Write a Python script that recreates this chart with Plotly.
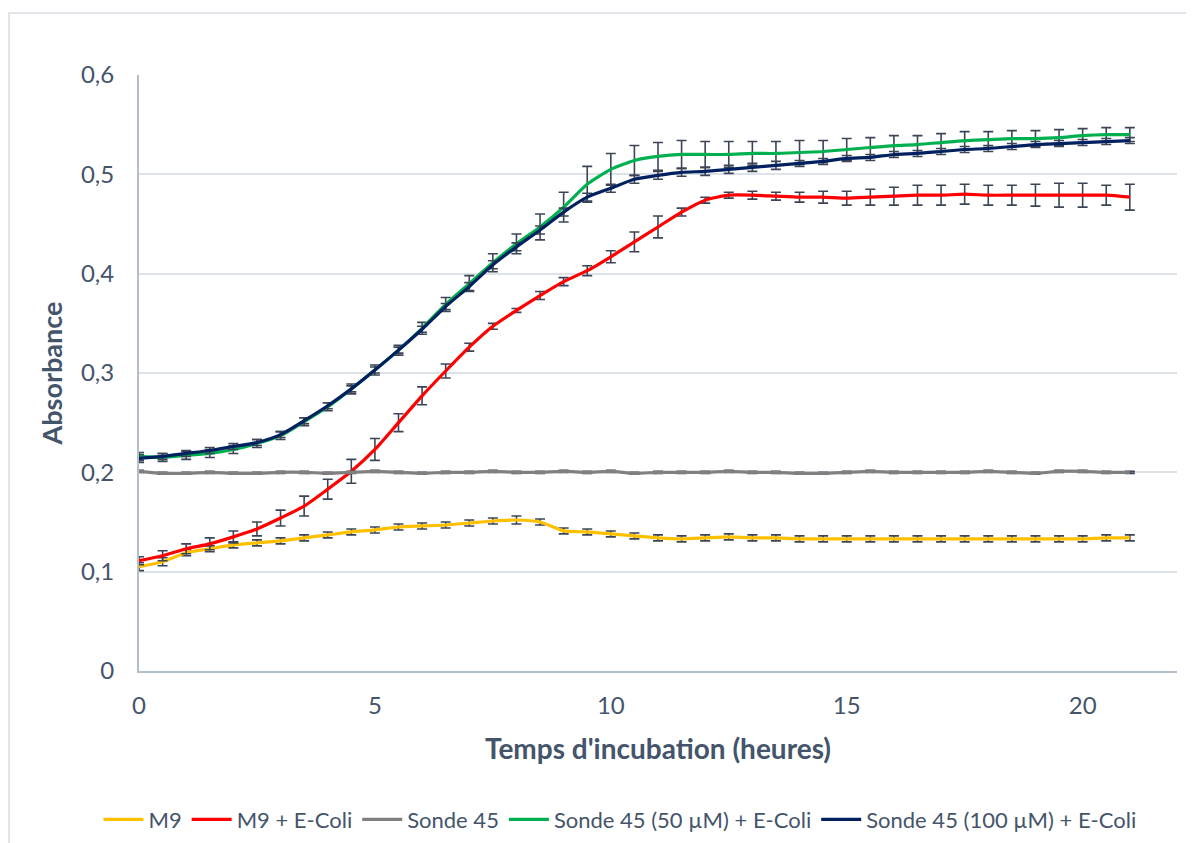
import plotly.graph_objects as go

time_h = [0, 0.5, 1, 1.5, 2, 2.5, 3, 3.5, 4, 4.5, 5, 5.5, 6, 6.5, 7, 7.5, 8, 8.5, 9, 9.5,
          10, 10.5, 11, 11.5, 12, 12.5, 13, 13.5, 14, 14.5, 15, 15.5, 16, 16.5, 17, 17.5,
          18, 18.5, 19, 19.5, 20, 20.5, 21]

m9 = [0.105, 0.110, 0.119, 0.123, 0.127, 0.129, 0.131, 0.134, 0.137, 0.140, 0.142, 0.145,
      0.146, 0.147, 0.149, 0.151, 0.152, 0.150, 0.141, 0.140, 0.138, 0.136, 0.134, 0.133,
      0.134, 0.135, 0.134, 0.134, 0.133, 0.133, 0.133, 0.133, 0.133, 0.133, 0.133, 0.133,
      0.133, 0.133, 0.133, 0.133, 0.133, 0.134, 0.134]
m9_err = [0.004, 0.004, 0.003, 0.003, 0.003, 0.003, 0.003, 0.003, 0.003, 0.003, 0.003, 0.003,
          0.003, 0.003, 0.003, 0.003, 0.004, 0.003, 0.003, 0.003, 0.003, 0.003, 0.003, 0.003,
          0.003, 0.003, 0.003, 0.003, 0.003, 0.003, 0.003, 0.003, 0.003, 0.003, 0.003, 0.003,
          0.003, 0.003, 0.003, 0.003, 0.003, 0.003, 0.003]

m9_ecoli = [0.111, 0.116, 0.123, 0.128, 0.135, 0.143, 0.154, 0.166, 0.183, 0.201, 0.223, 0.250,
            0.277, 0.302, 0.326, 0.347, 0.363, 0.378, 0.392, 0.403, 0.417, 0.432, 0.447, 0.462,
            0.474, 0.479, 0.479, 0.478, 0.477, 0.477, 0.476, 0.477, 0.478, 0.479, 0.479, 0.480,
            0.479, 0.479, 0.479, 0.479, 0.479, 0.479, 0.477]
m9_ecoli_err = [0.004, 0.005, 0.005, 0.006, 0.006, 0.007, 0.008, 0.010, 0.010, 0.012, 0.011, 0.009,
                0.009, 0.007, 0.004, 0.003, 0.002, 0.004, 0.004, 0.005, 0.006, 0.010, 0.011, 0.004,
                0.003, 0.003, 0.004, 0.004, 0.005, 0.006, 0.007, 0.008, 0.009, 0.010, 0.010, 0.010,
                0.010, 0.010, 0.011, 0.012, 0.012, 0.010, 0.013]

sonde45 = [0.201, 0.199, 0.199, 0.200, 0.199, 0.199, 0.200, 0.200, 0.199, 0.200, 0.201, 0.200,
           0.199, 0.200, 0.200, 0.201, 0.200, 0.200, 0.201, 0.200, 0.201, 0.199, 0.200, 0.200,
           0.200, 0.201, 0.200, 0.200, 0.199, 0.199, 0.200, 0.201, 0.200, 0.200, 0.200, 0.200,
           0.201, 0.200, 0.199, 0.201, 0.201, 0.200, 0.200]
sonde45_err = [0.001] * 43

sonde50 = [0.216, 0.215, 0.217, 0.219, 0.223, 0.229, 0.237, 0.251, 0.266, 0.284, 0.303, 0.323,
           0.345, 0.369, 0.390, 0.411, 0.430, 0.447, 0.467, 0.490, 0.505, 0.514, 0.518, 0.520,
           0.520, 0.520, 0.521, 0.521, 0.522, 0.523, 0.525, 0.527, 0.529, 0.530, 0.532, 0.534,
           0.535, 0.536, 0.536, 0.537, 0.539, 0.540, 0.540]
sonde50_err = [0.004, 0.004, 0.004, 0.004, 0.004, 0.004, 0.004, 0.004, 0.004, 0.005, 0.005, 0.005,
               0.006, 0.007, 0.008, 0.009, 0.010, 0.013, 0.015, 0.018, 0.016, 0.015, 0.014, 0.014,
               0.013, 0.013, 0.012, 0.012, 0.012, 0.011, 0.011, 0.010, 0.010, 0.009, 0.009, 0.009,
               0.008, 0.008, 0.008, 0.008, 0.007, 0.007, 0.007]

sonde100 = [0.214, 0.216, 0.219, 0.222, 0.226, 0.230, 0.238, 0.252, 0.267, 0.284, 0.303, 0.323,
            0.344, 0.367, 0.387, 0.409, 0.427, 0.444, 0.462, 0.477, 0.486, 0.495, 0.499, 0.502,
            0.503, 0.505, 0.507, 0.509, 0.511, 0.513, 0.516, 0.517, 0.520, 0.521, 0.523, 0.525,
            0.526, 0.528, 0.530, 0.531, 0.532, 0.533, 0.534]
sonde100_err = [0.004, 0.003, 0.003, 0.003, 0.003, 0.003, 0.003, 0.003, 0.003, 0.003, 0.003, 0.003,
                0.003, 0.003, 0.004, 0.004, 0.004, 0.004, 0.004, 0.004, 0.004, 0.004, 0.004, 0.004,
                0.004, 0.004, 0.004, 0.004, 0.003, 0.003, 0.003, 0.003, 0.003, 0.003, 0.003, 0.003,
                0.003, 0.003, 0.003, 0.003, 0.003, 0.003, 0.003]

series_names = ["M9", "M9 + E-Coli", "Sonde 45", "Sonde 45 (50 µM) + E-Coli", "Sonde 45 (100 µM) + E-Coli"]
series_values = [m9, m9_ecoli, sonde45, sonde50, sonde100]
series_errors = [m9_err, m9_ecoli_err, sonde45_err, sonde50_err, sonde100_err]
series_colors = ["#FFC000", "#FF0000", "#808080", "#00B050", "#002060"]

y_ticks = [0, 0.1, 0.2, 0.3, 0.4, 0.5, 0.6]
y_tick_labels = ["0", "0,1", "0,2", "0,3", "0,4", "0,5", "0,6"]
x_ticks = [0, 5, 10, 15, 20]

TEXT = "#44546A"
FONT = "Lato, 'Open Sans', sans-serif"

fig = go.Figure()
for name, vals, errs, col in zip(series_names, series_values, series_errors, series_colors):
    fig.add_trace(go.Scatter(
        x=time_h, y=vals, name=name, mode="lines",
        line=dict(color=col, width=3.2, shape="spline", smoothing=0.6),
        error_y=dict(type="data", array=errs, visible=True, color="#3B4556",
                     thickness=1.6, width=5),
    ))

fig.update_layout(
    width=1186, height=835,
    margin=dict(l=131, r=17, t=67, b=172, autoexpand=False),
    paper_bgcolor="white", plot_bgcolor="white",
    separators=", ",
    font=dict(family=FONT, color=TEXT, size=22),
    showlegend=True,
    legend=dict(orientation="h", xref="container", yref="container",
                x=0.516, xanchor="center", y=0.028, yanchor="middle",
                font=dict(size=22, color=TEXT), itemwidth=40, traceorder="normal"),
    xaxis=dict(range=[0, 22], tickvals=x_ticks, showgrid=False, zeroline=False,
               showline=True, linecolor="#B4BFCC", linewidth=2,
               ticks="", ticklabelstandoff=12, tickfont=dict(size=24, color=TEXT),
               title=dict(text="<b>Temps d'incubation (heures)</b>", font=dict(size=28, color=TEXT),
                          standoff=22)),
    yaxis=dict(range=[0, 0.6], tickvals=y_ticks, ticktext=y_tick_labels,
               showgrid=True, gridcolor="#DDE2E8", gridwidth=1.5,
               zeroline=False, showline=True, linecolor="#B4BFCC", linewidth=2,
               ticks="", ticklabelstandoff=18, tickfont=dict(size=24, color=TEXT),
               title=dict(text="<b>Absorbance</b>", font=dict(size=27, color=TEXT), standoff=10)),
    shapes=[dict(type="rect", xref="paper", yref="paper",
                 x0=-0.1252, x1=1.0154, y0=-0.33, y1=1.104,
                 line=dict(color="#D9DDE3", width=1.5), fillcolor="rgba(0,0,0,0)", layer="below")],
)

fig.write_html("out.html")
